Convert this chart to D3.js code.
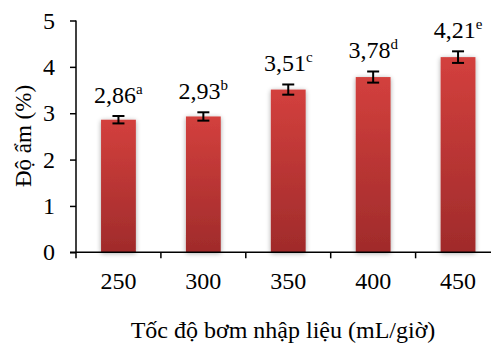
<!DOCTYPE html>
<html>
<head>
<meta charset="utf-8">
<script src="https://cdn.jsdelivr.net/npm/d3@7"></script>
<style>
  body { margin: 0; background: #fff; }
  svg text { font-family: "Liberation Serif", "Times New Roman", "DejaVu Serif", serif !important; fill: #000; }
</style>
</head>
<body>
<script>
(function() {

	// data
	var categories = ["250", "300", "350", "400", "450"];
	var values = [2.86, 2.93, 3.51, 3.78, 4.21];
	var errors = [0.08, 0.09, 0.11, 0.12, 0.125];
	var letters = ["a", "b", "c", "d", "e"];
	var yTicks = [0, 1, 2, 3, 4, 5];

	var width = 491, height = 345;
	var left = 76, bottom = 252.3, top = 20.5, right = 500.5;

	var svg = d3.select("body")
		.append("svg")
		.attr("width", width)
		.attr("height", height);

	var defs = svg.append("defs");
	var grad = defs.append("linearGradient")
		.attr("id", "barGrad")
		.attr("x1", 0).attr("y1", 0).attr("x2", 0).attr("y2", 1);
	grad.append("stop").attr("offset", "0%").attr("stop-color", "#d3403d");
	grad.append("stop").attr("offset", "100%").attr("stop-color", "#a02b2b");

	var shadow = defs.append("filter")
		.attr("id", "shadow")
		.attr("x", "-30%").attr("y", "-10%").attr("width", "160%").attr("height", "120%");
	shadow.append("feGaussianBlur").attr("in", "SourceAlpha").attr("stdDeviation", 2.5);
	shadow.append("feOffset").attr("dx", 0).attr("dy", 1).attr("result", "blur");
	shadow.append("feComponentTransfer").append("feFuncA").attr("type", "linear").attr("slope", 0.35);
	var merge = shadow.append("feMerge");
	merge.append("feMergeNode");
	merge.append("feMergeNode").attr("in", "SourceGraphic");

	// scales
	var x0 = d3.scaleBand()
		.range([left, right])
		.domain(categories);

	var x = d3.scaleBand()
		.range([left, right])
		.domain(categories)
		.paddingInner(0.59)
		.paddingOuter(0.295);

	var y = d3.scaleLinear()
		.range([bottom, top])
		.domain([0, 5]);

	// bars
	svg.selectAll(".bar")
		.data(values)
		.enter().append("rect")
		.attr("class", "bar")
		.attr("x", function(d, i) { return x(categories[i]); })
		.attr("width", x.bandwidth())
		.attr("y", function(d) { return y(d); })
		.attr("height", function(d) { return bottom - y(d); })
		.style("fill", "url(#barGrad)")
		.attr("filter", "url(#shadow)");

	// error bars
	var eb = svg.selectAll(".err")
		.data(values)
		.enter().append("g")
		.attr("class", "err")
		.attr("transform", function(d, i) { return "translate(" + (x(categories[i]) + x.bandwidth() / 2) + ",0)"; })
		.style("stroke", "#000")
		.style("stroke-width", 2);

	eb.append("line")
		.attr("y1", function(d, i) { return y(d + errors[i]); })
		.attr("y2", function(d, i) { return y(d - errors[i]); });
	eb.append("line")
		.attr("x1", -6).attr("x2", 6)
		.attr("y1", function(d, i) { return y(d + errors[i]); })
		.attr("y2", function(d, i) { return y(d + errors[i]); });
	eb.append("line")
		.attr("x1", -6).attr("x2", 6)
		.attr("y1", function(d, i) { return y(d - errors[i]); })
		.attr("y2", function(d, i) { return y(d - errors[i]); });

	// value labels
	var lab = svg.selectAll(".lab")
		.data(values)
		.enter().append("text")
		.attr("class", "lab")
		.attr("x", function(d, i) { return x(categories[i]) + x.bandwidth() / 2; })
		.attr("y", function(d, i) { return y(d + errors[i]) - 13; })
		.style("text-anchor", "middle")
		.style("font-size", "24px");
	lab.append("tspan")
		.text(function(d) { return d.toFixed(2).replace(".", ","); });
	lab.append("tspan")
		.attr("dy", -9)
		.style("font-size", "15px")
		.text(function(d, i) { return letters[i]; });

	// y axis
	var yAxis = d3.axisLeft(y)
		.tickValues(yTicks)
		.tickFormat(d3.format("d"))
		.tickSize(6)
		.tickPadding(15);

	var yG = svg.append("g")
		.attr("transform", "translate(" + left + ",0)")
		.call(yAxis);
	yG.select(".domain").remove();
	yG.selectAll("line").style("stroke", "#000").style("stroke-width", 1.5);
	yG.selectAll("text")
		.style("font-size", "24px");
	yG.append("line")
		.attr("y1", top).attr("y2", bottom)
		.style("stroke", "#000").style("stroke-width", 1.5);

	// x axis
	var xAxis = d3.axisBottom(x0).tickSize(0);
	var xG = svg.append("g")
		.attr("transform", "translate(0," + bottom + ")")
		.call(xAxis);
	xG.select(".domain").remove();
	xG.selectAll("text")
		.attr("y", 37)
		.attr("dy", 0)
		.style("font-size", "24px");
	xG.append("line")
		.attr("x1", left - 6).attr("x2", right)
		.style("stroke", "#000").style("stroke-width", 1.5);
	xG.selectAll(".sep")
		.data(categories)
		.enter().append("line")
		.attr("class", "sep")
		.attr("x1", function(d) { return x0(d); })
		.attr("x2", function(d) { return x0(d); })
		.attr("y1", 0).attr("y2", 6)
		.style("stroke", "#000").style("stroke-width", 1.5);

	// axis titles
	svg.append("text")
		.attr("x", 283)
		.attr("y", 338)
		.style("text-anchor", "middle")
		.style("font-size", "24px")
		.text("Tốc độ bơm nhập liệu (mL/giờ)");

	svg.append("text")
		.attr("transform", "translate(31,136) rotate(-90)")
		.style("text-anchor", "middle")
		.style("font-size", "23px")
		.text("Độ ẩm (%)");

})();
</script>
</body>
</html>
